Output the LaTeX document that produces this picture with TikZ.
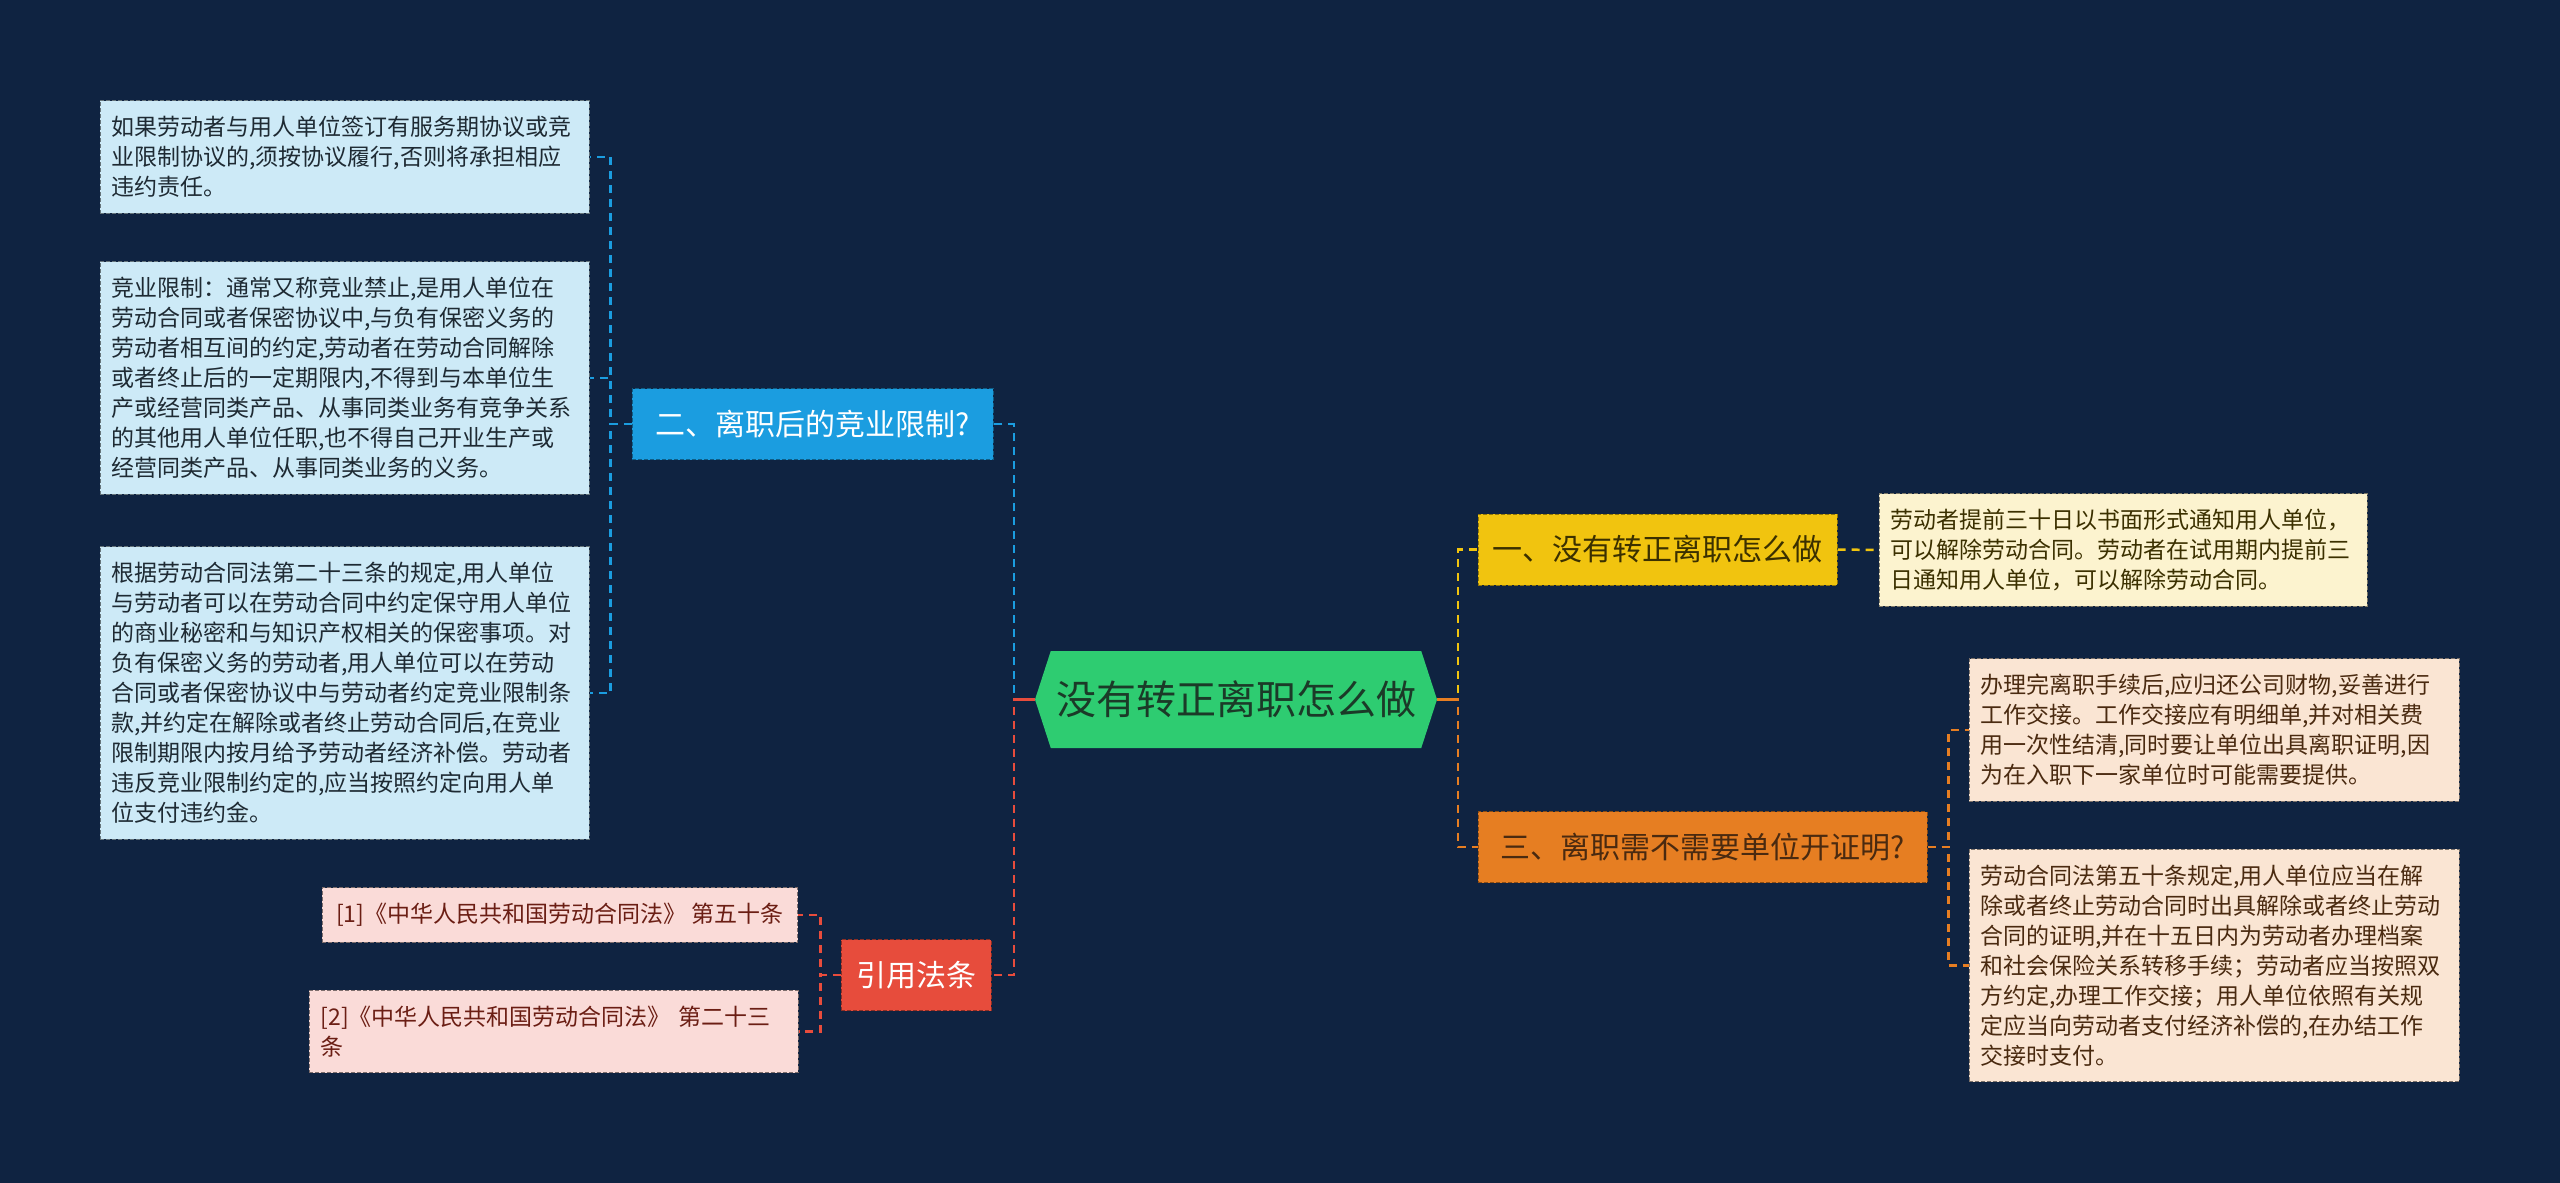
\documentclass[tikz,border=0pt]{standalone}
\usepackage{fontspec}
\setmainfont{Noto Sans CJK SC}
\usetikzlibrary{shapes.symbols}

\definecolor{bg}{HTML}{0F2341}
\definecolor{cgreen}{HTML}{2ECC71}
\definecolor{cblue}{HTML}{1B9DE0}
\definecolor{cred}{HTML}{E74C3C}
\definecolor{cyellow}{HTML}{F1C40F}
\definecolor{corange}{HTML}{E67E22}
\definecolor{lblue}{HTML}{CDEAF7}
\definecolor{lpink}{HTML}{FADBD8}
\definecolor{lcream}{HTML}{FCF3CF}
\definecolor{lpeach}{HTML}{FAE5D3}
\definecolor{gtext}{HTML}{1B3A28}
\definecolor{btext}{HTML}{1E2A33}
\definecolor{rtext}{HTML}{6B1E14}
\definecolor{ytext}{HTML}{3B3000}
\definecolor{otext}{HTML}{4A2A10}

\tikzset{
  box/.style={rectangle, dash pattern=on 4pt off 2pt, line width=1pt,
    inner xsep=11.5pt, inner ysep=15.5pt, align=left,
    font=\fontsize{23}{30}\selectfont},
  branch/.style={rectangle, dash pattern=on 4pt off 2pt, line width=1pt,
    minimum height=71pt, inner sep=0pt, font=\fontsize{30}{36}\selectfont},
  link/.style={line width=2.5pt, dash pattern=on 8pt off 6pt},
  stub/.style={line width=2.5pt},
}

\begin{document}
\begin{tikzpicture}[x=1pt,y=-1pt]
\useasboundingbox (0,0) rectangle (2560,1183);
\fill[bg] (0,0) rectangle (2560,1183);

% centre
\node[signal, signal to=west and east, signal pointer angle=144, fill=cgreen,
  text=gtext, minimum width=402pt, minimum height=97pt, inner sep=0pt,
  font=\fontsize{40}{48}\selectfont] (root) at (1236,699.5) {没有转正离职怎么做};

% left branches
\node[branch, fill=cblue, draw=cblue!60!black, text=white, minimum width=361pt]
  (compete) at (812.5,424) {二、离职后的竞业限制?};
\node[branch, fill=cred, draw=cred!60!black, text=white, minimum width=150pt]
  (law) at (916,975) {引用法条};

\node[box, fill=lblue, draw=lblue!50!black, text=btext, text width=466pt] (lim1) at (344.5,157)
  {如果劳动者与用人单位签订有服务期协议或竞\\业限制协议的,须按协议履行,否则将承担相应\\违约责任。};
\node[box, fill=lblue, draw=lblue!50!black, text=btext, text width=466pt] (lim2) at (344.5,378)
  {竞业限制：通常又称竞业禁止,是用人单位在\\劳动合同或者保密协议中,与负有保密义务的\\劳动者相互间的约定,劳动者在劳动合同解除\\或者终止后的一定期限内,不得到与本单位生\\产或经营同类产品、从事同类业务有竞争关系\\的其他用人单位任职,也不得自己开业生产或\\经营同类产品、从事同类业务的义务。};
\node[box, fill=lblue, draw=lblue!50!black, text=btext, text width=466pt] (lim3) at (344.5,693)
  {根据劳动合同法第二十三条的规定,用人单位\\与劳动者可以在劳动合同中约定保守用人单位\\的商业秘密和与知识产权相关的保密事项。对\\负有保密义务的劳动者,用人单位可以在劳动\\合同或者保密协议中与劳动者约定竞业限制条\\款,并约定在解除或者终止劳动合同后,在竞业\\限制期限内按月给予劳动者经济补偿。劳动者\\违反竞业限制约定的,应当按照约定向用人单\\位支付违约金。};

\node[box, fill=lpink, draw=lpink!50!black, text=rtext, inner xsep=14pt, anchor=east] (ref1) at (798,915)
  {[1]《中华人民共和国劳动合同法》 第五十条};
\node[box, fill=lpink, draw=lpink!50!black, text=rtext, text width=466pt] (ref2) at (553.5,1031.5)
  {[2]《中华人民共和国劳动合同法》 第二十三\\条};

% right branches
\node[branch, fill=cyellow, draw=cyellow!60!black, text=ytext, minimum width=359pt]
  (howto) at (1657.5,549.5) {一、没有转正离职怎么做};
\node[branch, fill=corange, draw=corange!60!black, text=otext, minimum width=449pt]
  (proof) at (1702.5,847) {三、离职需不需要单位开证明?};

\node[box, fill=lcream, draw=lcream!50!black, text=ytext, text width=465pt] (notice) at (2123,550)
  {劳动者提前三十日以书面形式通知用人单位，\\可以解除劳动合同。劳动者在试用期内提前三\\日通知用人单位，可以解除劳动合同。};
\node[box, fill=lpeach, draw=lpeach!50!black, text=otext, text width=467pt] (paper1) at (2214,730)
  {办理完离职手续后,应归还公司财物,妥善进行\\工作交接。工作交接应有明细单,并对相关费\\用一次性结清,同时要让单位出具离职证明,因\\为在入职下一家单位时可能需要提供。};
\node[box, fill=lpeach, draw=lpeach!50!black, text=otext, text width=467pt] (paper2) at (2214,965.5)
  {劳动合同法第五十条规定,用人单位应当在解\\除或者终止劳动合同时出具解除或者终止劳动\\合同的证明,并在十五日内为劳动者办理档案\\和社会保险关系转移手续；劳动者应当按照双\\方约定,办理工作交接；用人单位依照有关规\\定应当向劳动者支付经济补偿的,在办结工作\\交接时支付。};

% connectors
\draw[link, cblue] (root.west) -- ++(-21,0) |- (compete.east);
\draw[link, cred] (root.west) -- ++(-21,0) |- (law.east);
\draw[stub, cred] (root.west) -- ++(-21,0);
\draw[link, cblue] (compete.west) -- ++(-21,0) |- (lim1.east);
\draw[link, cblue] (compete.west) -- ++(-21,0) |- (lim2.east);
\draw[link, cblue] (compete.west) -- ++(-21,0) |- (lim3.east);
\draw[link, cred] (law.west) -- ++(-20,0) |- (ref1.east);
\draw[link, cred] (law.west) -- ++(-20,0) |- (ref2.east);

\draw[link, cyellow] (root.east) -- ++(21,0) |- (howto.west);
\draw[link, corange] (root.east) -- ++(21,0) |- (proof.west);
\draw[stub, corange] (root.east) -- ++(21,0);
\draw[link, cyellow] (howto.east) -- (notice.west);
\draw[link, corange] (proof.east) -- ++(21,0) |- (paper1.west);
\draw[link, corange] (proof.east) -- ++(21,0) |- (paper2.west);
\end{tikzpicture}
\end{document}
